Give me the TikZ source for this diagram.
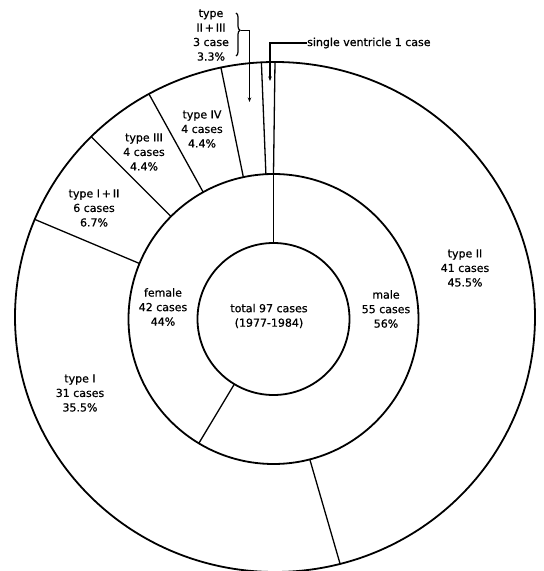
\documentclass[tikz,border=0pt]{standalone}
\usepackage{fontspec}
\setmainfont{DejaVu Sans}[BoldFont=DejaVu Sans, BoldFeatures={FakeBold=0.8}]
\usetikzlibrary{calc,arrows.meta,decorations.pathreplacing}
\begin{document}
\begin{tikzpicture}[x=1pt,y=1pt,
  ring/.style={line width=1.8pt},
  divider/.style={line width=1.3pt},
  lbl/.style={align=center,inner sep=0pt,font=\fontsize{11}{14.5}\selectfont\bfseries},
  arr/.style={line width=1.2pt,-{Stealth[length=4.5pt,width=3.5pt]}}]
\useasboundingbox (0,0) rectangle (544,571);
\coordinate (C) at (273.5,252);
\coordinate (O) at (275,254);
% rings
\draw[ring] (C) circle[radius=76pt];
\draw[ring] (C) circle[radius=145pt];
\draw[ring] (O) ellipse[x radius=260pt, y radius=255pt];
% male / female dividers
\foreach \a/\n in {90/p, 239/q} {
  \coordinate (ii\n) at ($(C)+(\a:76pt)$);
  \coordinate (im\n) at ($(C)+(\a:145pt)$);
  \draw[divider] (ii\n) -- (im\n);
}
% type dividers
\foreach \a/\n in {-75.5/a, 157.5/b, 135/c, 119/d, 102/e, 93/f, 90/g} {
  \coordinate (in\n) at ($(C)+(\a:145pt)$);
  \coordinate (out\n) at ($(O)+({260*cos(\a)},{255*sin(\a)})$);
  \draw[divider] (in\n) -- (out\n);
}
% labels
\node[lbl] (total) at (269,255) {total 97 cases\\(1977-1984)};
\node[lbl] (male) at (386,262) {male\\55 cases\\56\%};
\node[lbl] (female) at (163,264) {female\\42 cases\\44\%};
\node[lbl] (typeII) at (465,303) {type II\\41 cases\\45.5\%};
\node[lbl] (typeI) at (80,178) {type I\\31 cases\\35.5\%};
\node[lbl] (typeIII) at (94,363) {type I\,+\,II\\6 cases\\6.7\%};
\node[lbl] (typeIIIb) at (144,419) {type III\\4 cases\\4.4\%};
\node[lbl] (typeIV) at (202,442) {type IV\\4 cases\\4.4\%};
\node[lbl] (typeIIIII) at (211,536) {type\\II\,+\,III\\3 case\\3.3\%};
\node[lbl,anchor=west] (sv) at (307,528) {single ventricle 1 case};
% brace and arrows
\draw[line width=1.2pt,decorate,decoration={brace,amplitude=4pt,aspect=0.4}]
  (236,558) -- (236,515);
\coordinate (bt) at (240.5,540.5);
\coordinate (a1) at (249.5,469);
\coordinate (a2) at (270,490);
\draw[arr] (bt) -| (a1);
\draw[arr] (sv.west) -| (a2);
\end{tikzpicture}
\end{document}
